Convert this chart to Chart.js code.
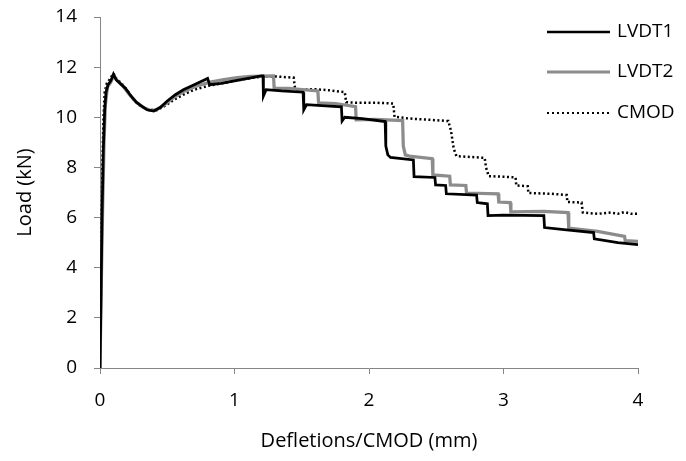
<!DOCTYPE html>
<html>
<head>
<meta charset="utf-8">
<script src="https://cdn.jsdelivr.net/npm/chart.js@4.4.1/dist/chart.umd.min.js"></script>
<style>
  html, body { margin: 0; padding: 0; background: #fff; }
  #wrap { width: 686px; height: 461px; }
</style>
</head>
<body>
<div id="wrap"><canvas id="myChart" width="686" height="461"></canvas></div>
<script>
// Load vs. deflection / CMOD
const xTicks = [0, 1, 2, 3, 4];
const yTicks = [0, 2, 4, 6, 8, 10, 12, 14];

const lvdt1X = [0, 0.008, 0.015, 0.025, 0.035, 0.045, 0.06, 0.08, 0.1, 0.12, 0.15, 0.19, 0.23, 0.27, 0.31, 0.35, 0.4, 0.45, 0.5, 0.56, 0.62, 0.68, 0.74, 0.8, 0.815, 0.9, 1.0, 1.1, 1.2, 1.212, 1.215, 1.235, 1.35, 1.51, 1.515, 1.535, 1.65, 1.795, 1.8, 1.82, 1.95, 2.12, 2.125, 2.14, 2.16, 2.33, 2.335, 2.49, 2.495, 2.57, 2.575, 2.8, 2.805, 2.88, 2.885, 3.0, 3.3, 3.305, 3.45, 3.67, 3.675, 3.85, 4.0];
const lvdt1Y = [0, 3, 6, 8.8, 10.3, 11.0, 11.3, 11.45, 11.72, 11.5, 11.35, 11.15, 10.85, 10.6, 10.45, 10.3, 10.25, 10.4, 10.65, 10.9, 11.1, 11.25, 11.4, 11.55, 11.3, 11.35, 11.45, 11.55, 11.65, 11.65, 10.85, 11.1, 11.05, 11.0, 10.3, 10.5, 10.47, 10.42, 9.85, 10.0, 9.95, 9.83, 8.85, 8.5, 8.4, 8.3, 7.63, 7.6, 7.3, 7.28, 6.95, 6.9, 6.6, 6.55, 6.08, 6.1, 6.08, 5.6, 5.52, 5.4, 5.15, 5.0, 4.92];

const lvdt2X = [0, 0.01, 0.02, 0.03, 0.04, 0.055, 0.08, 0.1, 0.13, 0.17, 0.22, 0.27, 0.32, 0.37, 0.42, 0.48, 0.55, 0.63, 0.72, 0.82, 0.92, 1.02, 1.12, 1.29, 1.295, 1.4, 1.62, 1.625, 1.75, 1.9, 1.905, 2.05, 2.25, 2.255, 2.27, 2.3, 2.47, 2.475, 2.6, 2.605, 2.72, 2.725, 2.96, 2.965, 3.05, 3.055, 3.3, 3.48, 3.485, 3.7, 3.9, 3.905, 4.0];
const lvdt2Y = [0, 3.5, 6.5, 9, 10.5, 11.2, 11.4, 11.65, 11.45, 11.25, 10.9, 10.6, 10.4, 10.28, 10.3, 10.5, 10.8, 11.05, 11.25, 11.4, 11.5, 11.58, 11.63, 11.65, 11.15, 11.15, 11.05, 10.57, 10.55, 10.42, 9.9, 9.92, 9.87, 8.85, 8.5, 8.45, 8.35, 7.7, 7.65, 7.3, 7.28, 6.98, 6.95, 6.62, 6.6, 6.23, 6.25, 6.2, 5.58, 5.45, 5.25, 5.08, 5.05];

const cmodX = [0, 0.005, 0.01, 0.018, 0.026, 0.035, 0.05, 0.07, 0.1, 0.12, 0.16, 0.2, 0.25, 0.3, 0.36, 0.42, 0.48, 0.55, 0.62, 0.7, 0.8, 0.9, 1.0, 1.1, 1.2, 1.3, 1.44, 1.45, 1.47, 1.6, 1.7, 1.82, 1.83, 1.9, 2.05, 2.18, 2.19, 2.3, 2.45, 2.59, 2.61, 2.63, 2.65, 2.75, 2.86, 2.87, 2.89, 3.0, 3.09, 3.095, 3.18, 3.185, 3.35, 3.47, 3.475, 3.58, 3.59, 3.7, 3.8, 3.85, 3.9, 3.95, 4.0];
const cmodY = [0, 2, 5, 8, 10, 11.0, 11.35, 11.5, 11.75, 11.55, 11.35, 11.1, 10.7, 10.45, 10.3, 10.28, 10.45, 10.7, 10.9, 11.1, 11.25, 11.35, 11.45, 11.55, 11.62, 11.63, 11.58, 11.15, 11.1, 11.12, 11.08, 11.0, 10.6, 10.58, 10.58, 10.55, 10.02, 9.95, 9.9, 9.85, 9.45, 8.75, 8.45, 8.42, 8.38, 8.0, 7.65, 7.63, 7.6, 7.28, 7.25, 6.98, 6.95, 6.9, 6.62, 6.6, 6.2, 6.15, 6.2, 6.15, 6.22, 6.15, 6.15];

const toPoints = (xs, ys) => xs.map((x, i) => ({ x: x, y: ys[i] }));

const FONT = "'Open Sans', 'Noto Sans', sans-serif";
const AXIS_GREY = "#868686";

// legend drawn at the upper right, lines then labels
const sideLegend = {
	id: "sideLegend",
	afterDraw(chart) {
		const ctx = chart.ctx;
		const rows = [32, 72, 113];
		ctx.save();
		chart.data.datasets.forEach((ds, i) => {
			const y = rows[i];
			ctx.beginPath();
			ctx.strokeStyle = ds.borderColor;
			ctx.lineWidth = ds.legendWidth;
			ctx.setLineDash(ds.legendDash || []);
			ctx.moveTo(547, y);
			ctx.lineTo(610, y);
			ctx.stroke();
			ctx.setLineDash([]);
			ctx.fillStyle = "#000";
			ctx.font = "19px " + FONT;
			ctx.textBaseline = "middle";
			ctx.textAlign = "left";
			ctx.fillText(ds.label, 617, y);
		});
		ctx.restore();
	},
};

const ctx = document.getElementById("myChart");
const myChart = new Chart(ctx, {
	type: "scatter",
	data: {
		datasets: [
			{
				label: "LVDT1",
				data: toPoints(lvdt1X, lvdt1Y),
				showLine: true,
				borderColor: "#000000",
				borderWidth: 2.75,
				legendWidth: 2.5,
				pointRadius: 0,
				tension: 0,
			},
			{
				label: "LVDT2",
				data: toPoints(lvdt2X, lvdt2Y),
				showLine: true,
				borderColor: "#8c8c8c",
				borderWidth: 3.25,
				legendWidth: 3,
				pointRadius: 0,
				tension: 0,
			},
			{
				label: "CMOD",
				data: toPoints(cmodX, cmodY),
				showLine: true,
				borderColor: "#000000",
				borderWidth: 2.5,
				borderDash: [2, 2.5],
				legendWidth: 2,
				legendDash: [2, 3],
				pointRadius: 0,
				tension: 0,
			},
		],
	},
	options: {
		responsive: false,
		animation: false,
		layout: {
			padding: { top: 17, right: 48, left: 0, bottom: 0 },
		},
		plugins: {
			legend: { display: false },
			tooltip: { enabled: false },
		},
		scales: {
			x: {
				type: "linear",
				min: 0,
				max: 4,
				afterBuildTicks: (scale) => {
					scale.ticks = xTicks.map((v) => ({ value: v }));
				},
				afterFit: (scale) => {
					scale.height = 93;
				},
				ticks: {
					padding: 15,
					color: "#000",
					font: { family: FONT, size: 19 },
				},
				grid: {
					drawOnChartArea: false,
					drawTicks: true,
					tickLength: 6,
					color: AXIS_GREY,
				},
				border: { color: AXIS_GREY, width: 1 },
				title: {
					display: true,
					text: "Defletions/CMOD (mm)",
					color: "#000",
					font: { family: FONT, size: 20 },
					padding: { top: 0, bottom: 8 },
				},
			},
			y: {
				min: 0,
				max: 14,
				afterBuildTicks: (scale) => {
					scale.ticks = yTicks.map((v) => ({ value: v }));
				},
				afterFit: (scale) => {
					scale.width = 100;
					// keep the label overhang from pushing the plot down
					scale.paddingTop = 0;
					scale.paddingBottom = 0;
				},
				ticks: {
					padding: 17,
					color: "#000",
					font: { family: FONT, size: 19 },
				},
				grid: {
					drawOnChartArea: false,
					drawTicks: true,
					tickLength: 6,
					color: AXIS_GREY,
				},
				border: { color: AXIS_GREY, width: 1 },
				title: {
					display: true,
					text: "Load (kN)",
					color: "#000",
					font: { family: FONT, size: 20 },
					padding: { top: 13, bottom: 0 },
				},
			},
		},
	},
	plugins: [sideLegend],
});
</script>
</body>
</html>
